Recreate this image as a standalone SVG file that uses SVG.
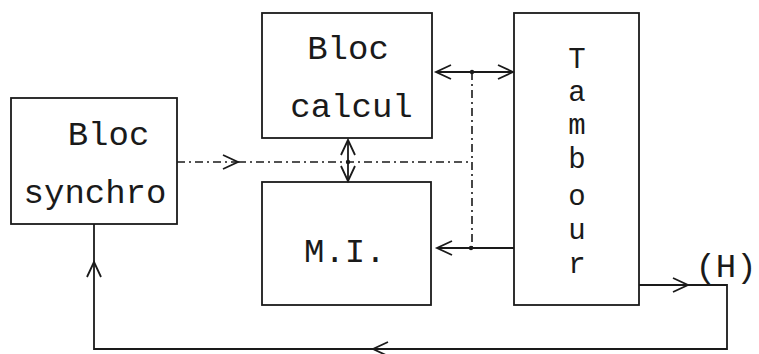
<svg xmlns="http://www.w3.org/2000/svg" width="759" height="354" viewBox="0 0 759 354">
  <style>
    .box { fill: none; stroke: #1a1a1a; stroke-width: 1.8; }
    .ln { fill: none; stroke: #1a1a1a; stroke-width: 1.8; }
    .dd { fill: none; stroke: #1a1a1a; stroke-width: 1.6; stroke-dasharray: 8 4 2 4; }
    .t { font-family: "Liberation Mono", "Courier New", monospace; font-size: 34px; fill: #1a1a1a; }
    .tv { font-size: 29px; }
    .dot { fill: #1a1a1a; }
  </style>
  <defs>
    <marker id="chev" markerUnits="userSpaceOnUse" markerWidth="22" markerHeight="22" viewBox="-18 -11 22 22" refX="0" refY="0" orient="auto">
      <path d="M-15,-7 L0,0 L-15,7" fill="none" stroke="#1a1a1a" stroke-width="1.8"/>
    </marker>
  </defs>
  <rect width="759" height="354" fill="#ffffff"/>

  <g id="connectors">
    <path class="dd" d="M177,162 H238" marker-end="url(#chev)"/>
    <path class="dd" d="M238,162 H472"/>
    <path class="dd" d="M472,72 V248"/>
    <path class="ln" d="M472,72 H436" marker-end="url(#chev)"/>
    <path class="ln" d="M472,72 H513" marker-end="url(#chev)"/>
    <circle class="dot" cx="472" cy="72" r="2.2"/>
    <path class="ln" d="M348,162 V140" marker-end="url(#chev)"/>
    <path class="ln" d="M348,162 V181" marker-end="url(#chev)"/>
    <circle class="dot" cx="348" cy="162" r="2.2"/>
    <path class="ln" d="M514,248 H437" marker-end="url(#chev)"/>
    <circle class="dot" cx="471" cy="248" r="2.2"/>
    <path class="ln" d="M639,285 H688" marker-end="url(#chev)"/>
    <path class="ln" d="M688,285 H727 V349 H373" marker-end="url(#chev)"/>
    <path class="ln" d="M373,349 H94 V262" marker-end="url(#chev)"/>
    <path class="ln" d="M94,262 V224"/>
  </g>

  <g id="bloc-synchro">
    <rect class="box" x="11" y="98" width="166" height="126"/>
    <text class="t" x="108.5" y="145" text-anchor="middle">Bloc</text>
    <text class="t" x="95" y="203" text-anchor="middle">synchro</text>
  </g>

  <g id="bloc-calcul">
    <rect class="box" x="262" y="13" width="170" height="125"/>
    <text class="t" x="348" y="59" text-anchor="middle">Bloc</text>
    <text class="t" x="351.5" y="117" text-anchor="middle">calcul</text>
  </g>

  <g id="mi">
    <rect class="box" x="262" y="182" width="169" height="123"/>
    <text class="t" x="304" y="262">M.I.</text>
  </g>

  <g id="tambour">
    <rect class="box" x="514" y="13" width="125" height="292"/>
    <text class="t tv" text-anchor="middle"><tspan x="577" y="68">T</tspan><tspan x="577" y="101">a</tspan><tspan x="577" y="134">m</tspan><tspan x="577" y="168">b</tspan><tspan x="577" y="205">o</tspan><tspan x="577" y="239">u</tspan><tspan x="577" y="273">r</tspan></text>
  </g>

  <g id="h-label">
    <text class="t" x="726" y="277" text-anchor="middle">(H)</text>
  </g>
</svg>
